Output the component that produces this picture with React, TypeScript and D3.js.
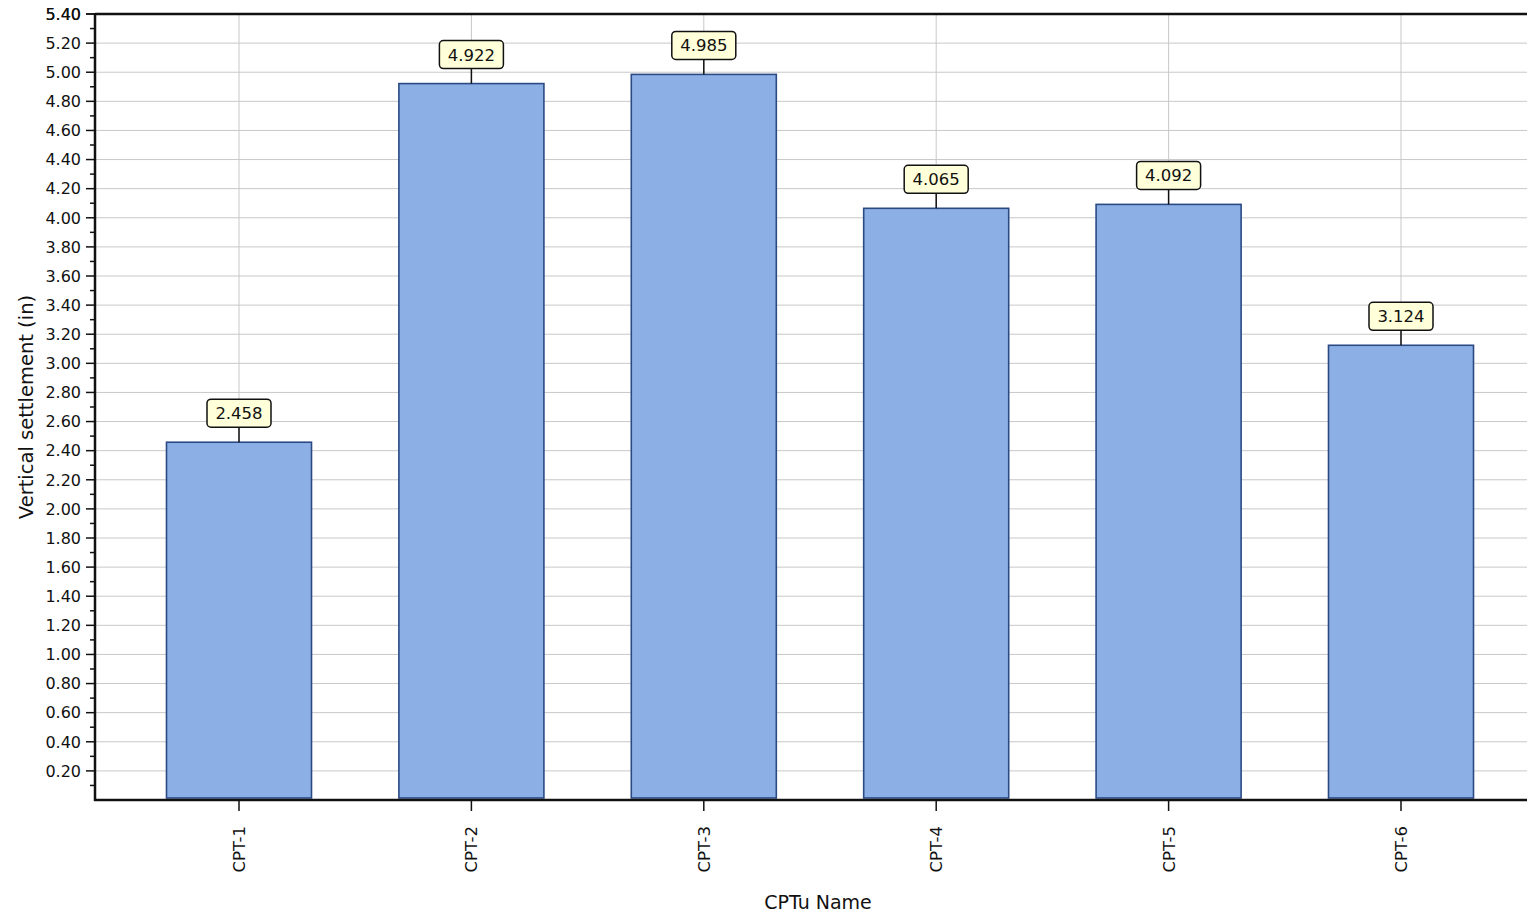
import React from "react";
import * as d3 from "d3";

const categories = ["CPT-1", "CPT-2", "CPT-3", "CPT-4", "CPT-5", "CPT-6"];
const values = [2.458, 4.922, 4.985, 4.065, 4.092, 3.124];
const yMajorTicks = d3.range(1, 28).map((i) => +(i * 0.2).toFixed(2));
const yMinorTicks = d3.range(1, 54, 2).map((i) => +(i * 0.1).toFixed(2));
const xTitle = "CPTu Name";
const yTitle = "Vertical settlement (in)";

const W = 1527;
const H = 916;
const left = 95;
const top = 14;
const bottom = 800;
const right = 1527;
const font = "Verdana, 'DejaVu Sans', sans-serif";

export default function App() {
  const y = d3.scaleLinear().domain([0, 5.4]).range([bottom, top]);
  const x = d3.scalePoint<string>().domain(categories).range([239, 1401]);
  const step = x.step();
  const bw = step * 0.624;
  return (
    <svg width={W} height={H} style={{ position: "absolute", left: 0, top: 0 }} fontFamily={font}>
      <rect x={0} y={0} width={W} height={H} fill="#fff" />
      {yMajorTicks.map((t) => (
        <line key={"gy" + t} x1={left} x2={right} y1={y(t)} y2={y(t)} stroke="#c8c8c8" strokeWidth={1} />
      ))}
      {categories.map((c) => (
        <line key={"gx" + c} x1={x(c)} x2={x(c)} y1={top} y2={bottom} stroke="#c8c8c8" strokeWidth={1} />
      ))}
      {categories.map((c, i) => (
        <rect
          key={"b" + c}
          x={(x(c) as number) - bw / 2}
          y={y(values[i])}
          width={bw}
          height={y(0) - 2 - y(values[i])}
          fill="#8CAFE5"
          stroke="#2B4A84"
          strokeWidth={1.6}
        />
      ))}
      {/* axes */}
      <line x1={left} x2={right} y1={top} y2={top} stroke="#111" strokeWidth={2.5} />
      <line x1={left} x2={left} y1={top - 1} y2={bottom + 1} stroke="#111" strokeWidth={2.5} />
      <line x1={left - 1} x2={right} y1={bottom} y2={bottom} stroke="#111" strokeWidth={2.5} />
      {[5.4, ...yMajorTicks].map((t) => (
        <g key={"yt" + t}>
          <line x1={left - 9} x2={left} y1={y(t)} y2={y(t)} stroke="#111" strokeWidth={1.5} />
          <text x={left - 14} y={y(t)} dy="0.36em" textAnchor="end" fontSize={16} fill="#111">
            {t.toFixed(2)}
          </text>
        </g>
      ))}
      {yMinorTicks.map((t) => (
        <line key={"ym" + t} x1={left - 5} x2={left} y1={y(t)} y2={y(t)} stroke="#111" strokeWidth={1.5} />
      ))}
      {categories.map((c) => (
        <g key={"xt" + c}>
          <line x1={x(c)} x2={x(c)} y1={bottom} y2={bottom + 11} stroke="#111" strokeWidth={1.5} />
          <text
            transform={`translate(${(x(c) as number) + 6},${bottom + 26}) rotate(-90)`}
            textAnchor="end"
            fontSize={16.5}
            fill="#111"
          >
            {c}
          </text>
        </g>
      ))}
      {/* value labels */}
      {categories.map((c, i) => {
        const cx = x(c) as number;
        const by = y(values[i]);
        const boxH = 28;
        const boxW = 64;
        const boxY = by - 15 - boxH;
        return (
          <g key={"l" + c}>
            <line x1={cx} x2={cx} y1={boxY + boxH} y2={by} stroke="#111" strokeWidth={1.5} />
            <rect x={cx - boxW / 2} y={boxY} width={boxW} height={boxH} rx={4} fill="#FFFFD9" stroke="#111" strokeWidth={1.5} />
            <text x={cx} y={boxY + boxH / 2} dy="0.36em" textAnchor="middle" fontSize={16.5} fill="#111">
              {values[i].toFixed(3)}
            </text>
          </g>
        );
      })}
      <text x={818} y={909} textAnchor="middle" fontSize={19} fill="#111">
        {xTitle}
      </text>
      <text transform={`translate(33,407) rotate(-90)`} textAnchor="middle" fontSize={19.5} fill="#111">
        {yTitle}
      </text>
    </svg>
  );
}
